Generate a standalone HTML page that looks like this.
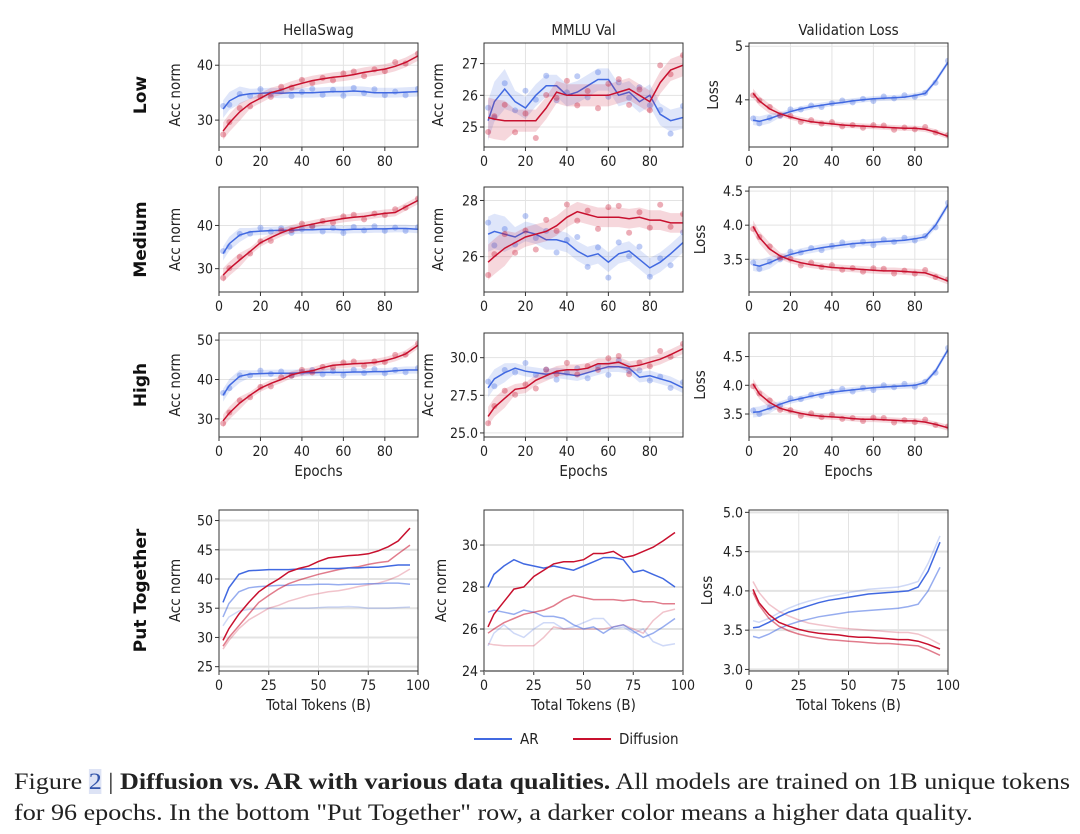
<!DOCTYPE html>
<html><head><meta charset="utf-8"><style>
body{margin:0;background:#fff;width:1080px;height:834px;overflow:hidden;position:relative;font-family:"DejaVu Sans","Liberation Sans",sans-serif}
#cap{position:absolute;left:14px;top:766px;font-family:"Liberation Serif",serif;font-size:23px;line-height:31px;color:#222;white-space:nowrap;transform:scaleX(1.135);transform-origin:0 0}
#cap .n{background:#dde3f5;color:#3355aa}
</style></head><body>
<svg id="fig" width="1080" height="760" style="position:absolute;left:0;top:0"></svg>
<div id="cap">Figure <span class="n">2</span> | <b>Diffusion vs. AR with various data qualities.</b> All models are trained on 1B unique tokens<br>for 96 epochs. In the bottom "Put Together" row, a darker color means a higher data quality.</div>
<script>
const epochs=[2,5,10,15,20,25,30,35,40,45,50,55,60,65,70,75,80,85,90,96];
const hsLowAR=[32,33.5,34.5,34.8,34.9,35,34.9,35,35,35,35.1,35.2,35.2,35.3,35.2,35,35,35,35.1,35.2];
const hsLowDiff=[28,29.5,31.5,33,34,35,35.5,36.2,36.7,37.2,37.5,37.8,38,38.3,38.7,39,39.3,39.8,40.5,41.7];
const hsMedAR=[33.5,35.8,37.8,38.5,38.7,38.8,38.9,38.9,39,39,39.1,39.1,39,39.1,39.1,39.2,39.2,39.3,39.3,39.1];
const hsMedDiff=[28.5,30,32,34,36,37.2,38.3,39.2,39.8,40.3,40.8,41.2,41.6,41.9,42.1,42.5,42.8,43,44.3,45.8];
const hsHighAR=[36,38.5,40.8,41.4,41.5,41.6,41.6,41.6,41.7,41.7,41.8,41.8,41.8,41.9,41.9,42,42,42.2,42.4,42.4];
const hsHighDiff=[29.5,31.5,34,36,37.8,39,40,41.2,41.8,42.2,43,43.6,43.8,44,44.1,44.3,44.8,45.5,46.5,48.7];
const mmLowAR=[25.2,25.8,26.2,25.8,25.6,26,26.3,26.3,26,26.1,26.3,26.5,26.5,26,26.1,25.8,26,25.4,25.2,25.3];
const mmLowDiff=[25.3,25.25,25.2,25.2,25.2,25.2,25.6,26.1,26,26,26,26,26,26.1,26.2,26,25.8,26.4,26.8,26.95];
const mmMedAR=[26.8,26.9,26.8,26.7,26.9,26.8,26.6,26.6,26.5,26.2,26,26.1,25.8,26.1,26.2,25.9,25.6,25.8,26.1,26.5];
const mmMedDiff=[25.8,26,26.3,26.5,26.7,26.8,26.9,27.1,27.4,27.6,27.5,27.4,27.4,27.4,27.35,27.4,27.3,27.3,27.2,27.2];
const mmHighAR=[28,28.6,29,29.3,29.1,29,28.9,29,28.9,28.8,29,29.2,29.4,29.4,29.3,28.7,28.8,28.6,28.4,28];
const mmHighDiff=[26.1,26.7,27.3,27.9,28,28.5,28.8,29.1,29.2,29.2,29.3,29.6,29.6,29.7,29.4,29.5,29.7,29.9,30.2,30.6];
const lsLowAR=[3.62,3.6,3.65,3.72,3.78,3.83,3.87,3.9,3.93,3.95,3.98,4,4.02,4.03,4.04,4.05,4.08,4.12,4.35,4.7];
const lsLowDiff=[4.12,3.98,3.83,3.74,3.68,3.63,3.59,3.57,3.55,3.53,3.52,3.51,3.5,3.49,3.48,3.47,3.47,3.45,3.4,3.32];
const lsMedAR=[3.42,3.4,3.45,3.52,3.57,3.61,3.64,3.67,3.69,3.71,3.73,3.74,3.75,3.76,3.77,3.78,3.8,3.83,4.0,4.3];
const lsMedDiff=[3.98,3.82,3.65,3.55,3.49,3.45,3.42,3.4,3.38,3.37,3.36,3.35,3.34,3.33,3.33,3.32,3.31,3.3,3.25,3.18];
const lsHighAR=[3.53,3.54,3.6,3.67,3.73,3.77,3.81,3.85,3.88,3.9,3.92,3.94,3.96,3.97,3.98,3.99,4,4.05,4.25,4.62];
const lsHighDiff=[4.02,3.85,3.7,3.6,3.55,3.51,3.48,3.46,3.45,3.44,3.42,3.41,3.41,3.4,3.39,3.38,3.38,3.36,3.32,3.26];
const jitter=[0.9,-1.1,0.4,-0.6,1.2,-0.3,0.7,-1.0,0.2,1.1,-0.8,0.5,-1.2,0.9,-0.4,1.0,-0.7,0.3,-0.9,0.8];
const colTitles=["HellaSwag","MMLU Val","Validation Loss"];
const rowTitles=["Low","Medium","High","Put Together"];
const topXTicks=[0,20,40,60,80];
const botXTicks=[0,25,50,75,100];
const yTicks=[[[30,40],[25,26,27],[4,5]],[[30,40],[26,28],[3.5,4.0,4.5]],[[30,40,50],[25.0,27.5,30.0],[3.5,4.0,4.5]],[[25,30,35,40,45,50],[24,26,28,30],[3.0,3.5,4.0,4.5,5.0]]];
const yTickFmt=[[0,0,0],[0,0,1],[0,1,1],[0,0,1]];

const data=[[[hsLowAR,hsLowDiff],[mmLowAR,mmLowDiff],[lsLowAR,lsLowDiff]],
 [[hsMedAR,hsMedDiff],[mmMedAR,mmMedDiff],[lsMedAR,lsMedDiff]],
 [[hsHighAR,hsHighDiff],[mmHighAR,mmHighDiff],[lsHighAR,lsHighDiff]]];
const rowsY=[[43,147],[187,292],[333,437],[510,671]];
const colsX=[[219,418],[484,683],[749,948]];
const dom=[[[25.1,44.05],[24.37,27.65],[3.12,5.06]],[[24.6,48.9],[24.74,28.48],[3.02,4.56]],[[25.4,51.8],[24.73,31.64],[3.10,4.91]],[[24.26,51.8],[24,31.67],[2.98,5.03]]];
const titleOff=[[39,41,31],[39,41,44],[39,51,44],[39,38,37]];
const bw=[0.9,0.35,0.05];
const BLUE="#4169e1",RED="#c8102e";
const TF='"DejaVu Sans Condensed","DejaVu Sans",sans-serif';
const svg=document.getElementById('fig');
const NS="http://www.w3.org/2000/svg";
function mk(tag,at,parent){const e=document.createElementNS(NS,tag);for(const k in at)e.setAttribute(k,at[k]);(parent||svg).appendChild(e);return e;}
function txt(s,x,y,at,parent){const t=mk('text',Object.assign({x:x,y:y,'font-size':14,fill:'#222','text-anchor':'middle','font-family':TF},at),parent);t.textContent=s;return t;}
function path(pts){return pts.map((p,i)=>(i?'L':'M')+p[0].toFixed(1)+','+p[1].toFixed(1)).join('');}

for(let r=0;r<4;r++){for(let c=0;c<3;c++){
 const g=mk('g',{});
 
 
 const [x0,x1]=colsX[c],[y0,y1]=rowsY[r],[d0,d1]=dom[r][c];
 const xd=r<3?[0,96]:[0,100];
 const X=v=>x0+(v-xd[0])/(xd[1]-xd[0])*(x1-x0);
 const Y=v=>y1-(v-d0)/(d1-d0)*(y1-y0);
 const xt=r<3?topXTicks:botXTicks;
 xt.forEach(t=>{mk('line',{x1:X(t),x2:X(t),y1:y0,y2:y1,stroke:'#e3e3e3','stroke-width':1},g);
  mk('line',{x1:X(t),x2:X(t),y1:y1,y2:y1+4,stroke:'#333'},g);
  const l=txt(String(t),X(t),y1+19,{},g);});
 yTicks[r][c].forEach(t=>{mk('line',{x1:x0,x2:x1,y1:Y(t),y2:Y(t),stroke:'#e3e3e3','stroke-width':r==3?2:1},g);
  mk('line',{x1:x0-4,x2:x0,y1:Y(t),y2:Y(t),stroke:'#333'},g);
  const l=txt(t.toFixed(yTickFmt[r][c]),x0-6,Y(t)+5,{'text-anchor':'end'},g);});
 const clip='cp'+r+c;const cp=mk('clipPath',{id:clip},g);mk('rect',{x:x0,y:y0,width:x1-x0,height:y1-y0},cp);
 const pg=mk('g',{'clip-path':'url(#'+clip+')'},g);
 if(r<3){
  [[0,BLUE],[1,RED]].forEach(([s,col])=>{
   const vals=data[r][c][s];
   const up=vals.map((v,i)=>[X(epochs[i]),Y(v+bw[c]*(i<3?1.8:1))]);
   const dn=vals.map((v,i)=>[X(epochs[i]),Y(v-bw[c]*(i<3?1.8:1))]).reverse();
   const b=mk('path',{d:path(up.concat(dn))+'Z',fill:col,'fill-opacity':0.17,stroke:'none'},pg);
   
   vals.forEach((v,i)=>{const d=mk('circle',{cx:X(epochs[i]),cy:Y(v+jitter[(i+s*7)%20]*bw[c]*(c==1?1.3:0.7)),r:3,fill:col,'fill-opacity':0.35},pg);
    });
   const l=mk('path',{d:path(vals.map((v,i)=>[X(epochs[i]),Y(v)])),fill:'none',stroke:col,'stroke-width':1.5},pg);
   
  });
 } else {
  const op=[0.25,0.55,1];
  for(let q=0;q<3;q++){[[0,BLUE],[1,RED]].forEach(([s,col])=>{
   const vals=data[q][c][s];
   const l=mk('path',{d:path(vals.map((v,i)=>[X(epochs[i]),Y(v)])),fill:'none',stroke:col,'stroke-opacity':op[q],'stroke-width':1.5},pg);
   
  });}
 }
 mk('rect',{x:x0,y:y0,width:x1-x0,height:y1-y0,fill:'none',stroke:'#333','stroke-width':1},g);
 const yl=c<2?'Acc norm':'Loss';
 const tx=x0-titleOff[r][c],ty=(y0+y1)/2;
 const yt=txt(yl,tx,ty,{transform:'rotate(-90 '+tx+' '+ty+')','font-size':15},g);
 
 if(r>=2){const xl=txt(r<3?'Epochs':'Total Tokens (B)',(x0+x1)/2,y1+39,{'font-size':15},g);}
 if(r==0){const ct=txt(colTitles[c],(x0+x1)/2,35,{'font-size':15},g);}
}
 const cy=(rowsY[r][0]+rowsY[r][1])/2;
 const rt=txt(rowTitles[r],146,cy,{transform:'rotate(-90 146 '+cy+')','font-size':17,'font-weight':'bold',fill:'#111','font-family':'"DejaVu Sans",sans-serif'});
 
}
const lg=mk('g',{});

mk('line',{x1:474,x2:512,y1:739,y2:739,stroke:BLUE,'stroke-width':2},lg);
txt('AR',520,744,{'text-anchor':'start','font-size':15},lg);
mk('line',{x1:573,x2:611,y1:739,y2:739,stroke:RED,'stroke-width':2},lg);
txt('Diffusion',619,744,{'text-anchor':'start','font-size':15},lg);
</script>
</body></html>
